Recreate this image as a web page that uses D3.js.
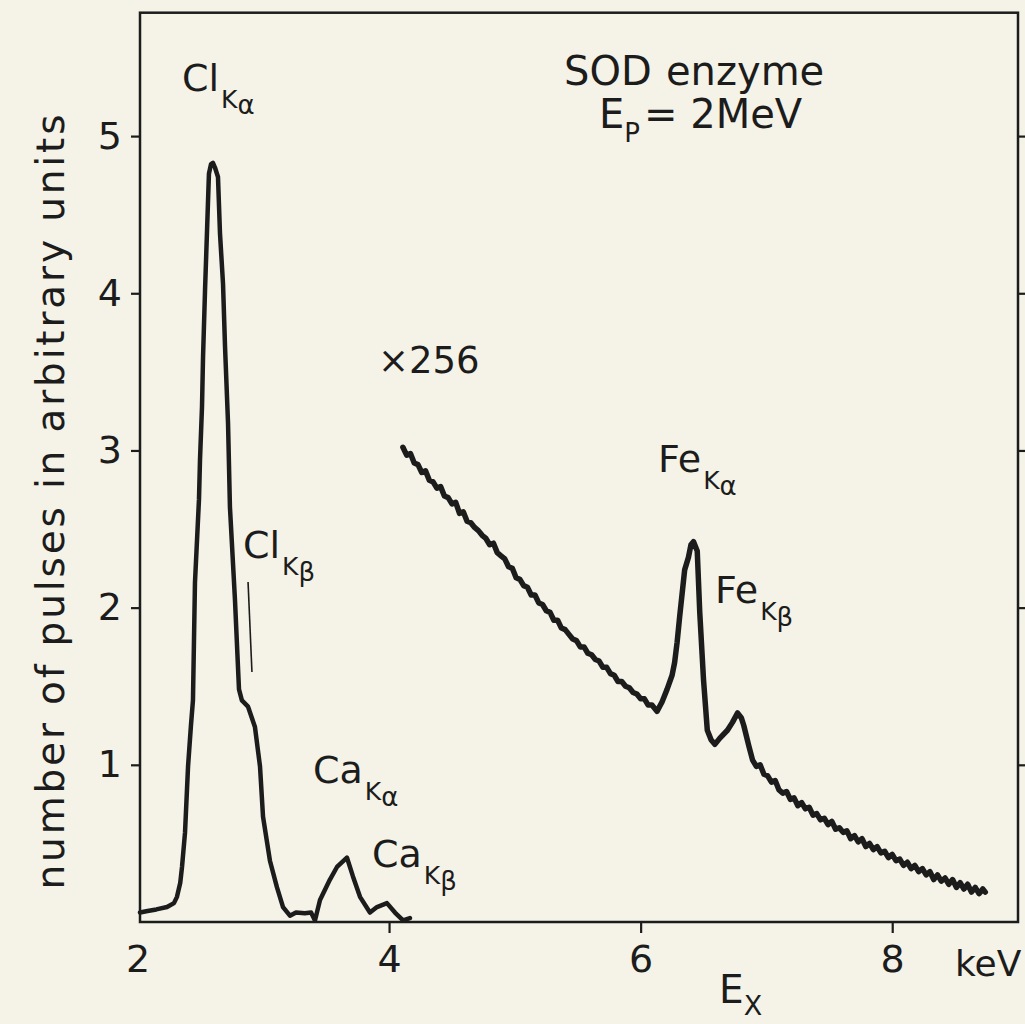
<!DOCTYPE html>
<html>
<head>
<meta charset="utf-8">
<script src="https://cdn.jsdelivr.net/npm/d3@7"></script>
<style>
  html, body { margin: 0; padding: 0; background: #f5f3e7; }
  svg { display: block; }
  text { font-family: "DejaVu Sans", sans-serif; fill: #1c1c1c; }
</style>
</head>
<body>
<svg id="chart" width="1025" height="1024"></svg>
<script>
// energies in keV, counts in arbitrary units
var mainEnergy = [2.02, 2.08, 2.15, 2.235, 2.29, 2.314, 2.34, 2.354, 2.378, 2.402, 2.425, 2.441, 2.457,
  2.489, 2.497, 2.513, 2.521, 2.537, 2.553, 2.568, 2.584, 2.600, 2.616, 2.640, 2.656, 2.680, 2.696,
  2.720, 2.735, 2.775, 2.807, 2.83, 2.879, 2.934, 2.958, 2.974, 2.998, 3.053, 3.109, 3.157, 3.212,
  3.26, 3.33, 3.38, 3.411, 3.451, 3.530, 3.586, 3.665, 3.713, 3.769, 3.848, 3.904, 3.983, 4.047,
  4.111, 4.166];
var mainCounts = [0.06, 0.07, 0.08, 0.095, 0.12, 0.16, 0.25, 0.35, 0.57, 0.99, 1.25, 1.41, 2.16,
  2.69, 2.94, 3.28, 3.59, 4.02, 4.40, 4.76, 4.82, 4.83, 4.80, 4.74, 4.38, 4.06, 3.66,
  3.17, 2.64, 2.05, 1.48, 1.41, 1.37, 1.24, 1.09, 0.99, 0.67, 0.39, 0.22, 0.095, 0.04,
  0.06, 0.055, 0.06, 0.01, 0.14, 0.27, 0.35, 0.41, 0.29, 0.16, 0.06, 0.095, 0.12, 0.06,
  0.01, 0.025];

// the x256 trace
var zoomEnergy = [4.11, 4.14, 4.17, 4.20, 4.23, 4.26, 4.29, 4.32, 4.35, 4.38, 4.41, 4.44, 4.47, 4.50,
  4.53, 4.56, 4.59, 4.62, 4.65, 4.68, 4.71, 4.74, 4.77, 4.80, 4.83, 4.86, 4.89, 4.92, 4.95, 4.98,
  5.01, 5.04, 5.07, 5.10, 5.13, 5.16, 5.19, 5.22, 5.25, 5.28, 5.31, 5.34, 5.37, 5.40, 5.43, 5.46,
  5.49, 5.52, 5.55, 5.58, 5.61, 5.64, 5.67, 5.70, 5.73, 5.76, 5.79, 5.82, 5.85, 5.88, 5.91, 5.94,
  5.97, 6.00, 6.03, 6.06, 6.09, 6.13,
  6.17, 6.21, 6.25, 6.27, 6.29, 6.31, 6.35, 6.38, 6.40, 6.42, 6.45, 6.47, 6.50, 6.53, 6.56, 6.59,
  6.63, 6.69, 6.73, 6.77, 6.80, 6.82, 6.86, 6.89,
  6.92, 6.95, 6.98, 7.01, 7.04, 7.07, 7.10, 7.13, 7.16, 7.19, 7.22, 7.25, 7.28, 7.31, 7.34, 7.37,
  7.40, 7.43, 7.46, 7.49, 7.52, 7.55, 7.58, 7.61, 7.64, 7.67, 7.70, 7.73, 7.76, 7.79, 7.82, 7.85,
  7.88, 7.91, 7.94, 7.97, 8.00, 8.03, 8.06, 8.09, 8.12, 8.15, 8.18, 8.21, 8.24, 8.27, 8.30, 8.33,
  8.36, 8.39, 8.42, 8.45, 8.48, 8.51, 8.54, 8.57, 8.60, 8.63, 8.66, 8.69, 8.72, 8.74];
var zoomCounts = [3.02, 2.97, 2.98, 2.92, 2.91, 2.86, 2.87, 2.81, 2.80, 2.76, 2.77, 2.71, 2.70, 2.66,
  2.67, 2.60, 2.61, 2.55, 2.54, 2.51, 2.49, 2.46, 2.44, 2.40, 2.41, 2.35, 2.33, 2.31, 2.26, 2.25,
  2.19, 2.18, 2.14, 2.13, 2.08, 2.08, 2.03, 2.02, 1.98, 1.97, 1.92, 1.92, 1.87, 1.86, 1.83, 1.80,
  1.79, 1.75, 1.75, 1.71, 1.70, 1.67, 1.66, 1.62, 1.62, 1.58, 1.57, 1.53, 1.53, 1.50, 1.49, 1.46,
  1.45, 1.42, 1.42, 1.38, 1.38, 1.34,
  1.40, 1.48, 1.57, 1.65, 1.78, 1.94, 2.24, 2.32, 2.40, 2.42, 2.36, 1.97, 1.54, 1.22, 1.16, 1.13,
  1.17, 1.22, 1.27, 1.33, 1.30, 1.25, 1.12, 1.03,
  0.99, 1.00, 0.94, 0.93, 0.89, 0.90, 0.84, 0.82, 0.83, 0.78, 0.79, 0.74, 0.76, 0.72, 0.73, 0.68,
  0.69, 0.65, 0.66, 0.62, 0.64, 0.59, 0.60, 0.57, 0.58, 0.53, 0.55, 0.51, 0.53, 0.48, 0.50, 0.46,
  0.48, 0.44, 0.45, 0.41, 0.43, 0.39, 0.40, 0.36, 0.38, 0.34, 0.36, 0.32, 0.34, 0.30, 0.32, 0.27,
  0.30, 0.26, 0.28, 0.24, 0.27, 0.22, 0.25, 0.21, 0.24, 0.19, 0.22, 0.18, 0.21, 0.19];

var xTicks = [2, 4, 6, 8];
var yTicks = [1, 2, 3, 4, 5];

// peak labels: element, shell, line, then energy/counts of the label's left baseline
var peakLabels = [
  ["Cl", "K", "\u03b1", 2.354, 5.286],
  ["Cl", "K", "\u03b2", 2.839, 2.316],
  ["Ca", "K", "\u03b1", 3.395, 0.884],
  ["Ca", "K", "\u03b2", 3.864, 0.350],
  ["Fe", "K", "\u03b1", 6.138, 2.863],
  ["Fe", "K", "\u03b2", 6.591, 2.029]
];

var svg = d3.select('#chart');
var ink = '#1c1c1c';

var x = d3.scaleLinear().domain([2.02, 9.0]).range([140, 1018]);
var y = d3.scaleLinear().domain([0, 5.785]).range([922, 12.7]);

// axes
var gx = svg.append('g')
  .attr('transform', 'translate(0,' + y(0) + ')')
  .call(d3.axisBottom(x).tickValues(xTicks).tickSize(11).tickPadding(12).tickFormat(d3.format('d')));
gx.selectAll('.tick').filter(function(d) { return d === 2; }).select('line').remove();

var gy = svg.append('g')
  .attr('transform', 'translate(' + x(2.02) + ',0)')
  .call(d3.axisLeft(y).tickValues(yTicks).tickSize(9).tickPadding(9).tickFormat(d3.format('d')));

var gr = svg.append('g')
  .attr('transform', 'translate(' + x(9.0) + ',0)')
  .call(d3.axisRight(y).tickValues(yTicks).tickSize(10).tickFormat(''));

svg.selectAll('.domain').remove();
svg.selectAll('.tick line').attr('stroke', ink).attr('stroke-width', 2.2);
svg.selectAll('.tick text')
  .style('font-family', '"DejaVu Sans", sans-serif')
  .style('font-size', '38px')
  .attr('fill', ink);

// frame
svg.append('rect')
  .attr('x', x(2.02)).attr('y', y(5.785))
  .attr('width', x(9.0) - x(2.02)).attr('height', y(0) - y(5.785))
  .attr('fill', 'none').attr('stroke', ink).attr('stroke-width', 2.5);

// curves
var line = d3.line()
  .x(function(d) { return x(d[0]); })
  .y(function(d) { return y(d[1]); });

svg.append('path')
  .datum(d3.zip(mainEnergy, mainCounts))
  .attr('d', line)
  .attr('fill', 'none').attr('stroke', ink)
  .attr('stroke-width', 4.5).attr('stroke-linejoin', 'round').attr('stroke-linecap', 'round');

svg.append('path')
  .datum(d3.zip(zoomEnergy, zoomCounts))
  .attr('d', line)
  .attr('fill', 'none').attr('stroke', ink)
  .attr('stroke-width', 5.5).attr('stroke-linejoin', 'round').attr('stroke-linecap', 'round');

// Cl Kbeta marker
svg.append('line')
  .attr('x1', x(2.879)).attr('y1', y(2.163))
  .attr('x2', x(2.910)).attr('y2', y(1.590))
  .attr('stroke', ink).attr('stroke-width', 1.6);

// peak labels
peakLabels.forEach(function(p) {
  var t = svg.append('text')
    .attr('x', x(p[3])).attr('y', y(p[4]))
    .style('font-size', '38px');
  t.append('tspan').text(p[0]);
  t.append('tspan').attr('dy', 17).attr('dx', 2).style('font-size', '25px').text(p[1]);
  t.append('tspan').attr('dy', 6).style('font-size', '26px').text(p[2]);
});

svg.append('text')
  .attr('x', x(3.912)).attr('y', y(3.492))
  .style('font-size', '37px')
  .text('\u00d7256');

// title block
var t1 = svg.append('text').attr('y', 85).style('font-size', '40px');
t1.append('tspan').attr('x', 564).text('SOD');
t1.append('tspan').attr('x', 666).text('enzyme');

var t2 = svg.append('text').attr('x', 599).attr('y', 128).style('font-size', '40px');
t2.append('tspan').text('E');
t2.append('tspan').attr('dy', 14).style('font-size', '26px').text('P');
t2.append('tspan').attr('dy', -14).attr('dx', 4).text('= 2MeV');

// axis titles
svg.append('text')
  .attr('x', 955).attr('y', 976)
  .style('font-size', '36px')
  .text('keV');

var tx = svg.append('text').attr('x', 719).attr('y', 1003).style('font-size', '39px');
tx.append('tspan').text('E');
tx.append('tspan').attr('dy', 12).style('font-size', '27px').text('X');

svg.append('text')
  .attr('transform', 'translate(64,502) rotate(-90)')
  .attr('text-anchor', 'middle')
  .attr('textLength', 775).attr('lengthAdjust', 'spacing')
  .style('font-size', '39px')
  .text('number of pulses in arbitrary units');
</script>
</body>
</html>
